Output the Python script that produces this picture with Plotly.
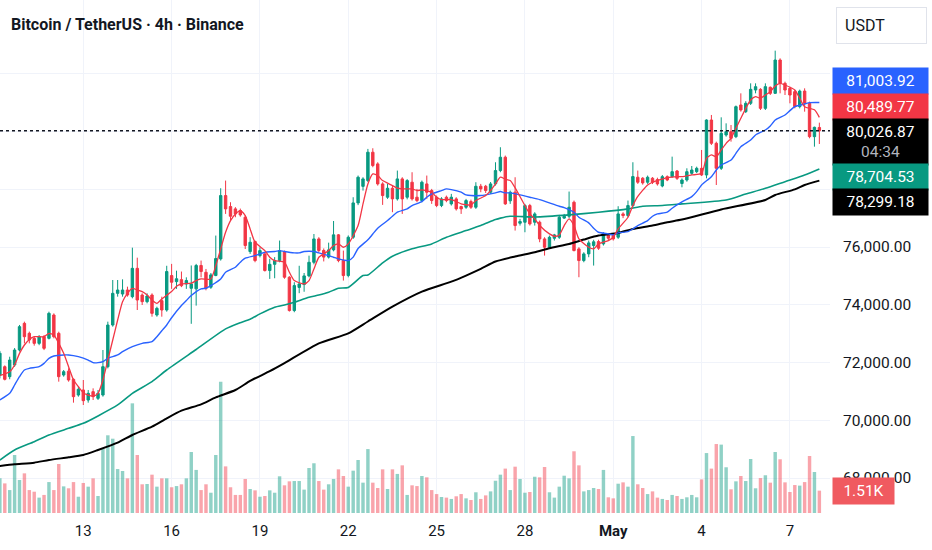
import pandas as pd
import plotly.graph_objects as go

# ---------------- data ----------------
start = pd.Timestamp("2025-04-10 00:00")
step = pd.Timedelta(hours=4)

opens = [71560,71855,71509,71913,72433,73356,73010,72837,72663,72894,
         72837,73645,73010,71567,71700,71417,70874,71048,70701,70990,
         70759,70874,71855,73298,74395,74372,74510,74280,75261,74337,
         74107,74337,73645,74141,73818,75010,74800,74870,74720,74570,
         74550,75360,75125,74607,75011,75588,77781,77400,77320,77262,
         77031,75842,76188,75703,75761,75184,75400,75530,75842,74953,
         73799,74600,74700,75000,75470,76280,75880,75650,75900,76420,
         75530,75011,76338,77527,78100,78300,79282,78878,78185,77724,
         78035,77666,78358,77724,78243,77724,77608,78185,77954,77724,
         77435,77724,77493,77666,77400,77377,77574,77377,78104,78104,
         77897,78185,78647,79109,77600,77900,76823,76858,77435,76858,
         76858,76280,75992,76303,76338,77000,77065,77550,75934,75530,
         75761,76050,76188,76107,76419,76396,76338,77146,77089,77435,
         78416,78382,78243,78382,78335,78113,78436,78436,78632,78200,
         78321,78552,78610,78725,78494,80398,79591,78725,79879,79994,
         79821,80918,80687,80976,81437,81460,80802,81530,81322,82476,
         81668,81495,81380,80860,81400,80976,79821,80140]
highs = [72400,71900,72200,72500,73300,73414,73070,72900,72950,72950,
         73760,73702,73067,71740,71798,71450,71163,71394,71048,71105,
         71048,72433,73414,74857,74857,74880,74626,75977,75630,74395,
         74395,74395,73933,74280,75350,75415,75180,75150,74950,75360,
         75415,75530,75240,75100,76396,78035,78300,77550,77380,77330,
         77089,76340,76223,75990,75820,75590,75650,76223,75876,74990,
         74780,75350,75100,75700,76450,76340,75950,76150,76900,76450,
         75876,76400,77724,78474,78416,79397,79420,78935,78243,78185,
         78127,78647,78416,78350,78589,78012,78300,78474,78012,77780,
         77724,77780,77840,77724,77430,77666,77640,78243,78185,78150,
         78250,78935,79455,79166,77954,78416,76973,77493,77493,77204,
         76915,76338,76396,76454,77112,77146,77920,77608,75992,75819,
         76223,76250,76250,76511,76454,76454,77412,77204,77608,78935,
         78647,78420,78474,78420,78400,78494,78480,79129,78667,78378,
         78725,78805,78782,79360,80421,80572,79648,80491,80283,80225,
         80900,81322,81050,81668,81668,81500,81668,81560,82800,82534,
         81726,81553,81437,81450,81495,81034,80168,80306]
lows = [71450,71380,71420,71850,72380,72663,72663,72583,72600,72430,
        72800,72837,71336,71509,71336,70609,70817,70528,70609,70701,
        70701,70817,71798,73241,74280,74280,74280,74222,73818,73991,
        74049,73587,73587,73587,73760,74550,74550,74610,74550,73340,
        73970,74950,74500,74550,74990,75530,77146,76915,77030,77050,
        75930,75761,75472,75640,75150,74895,74918,75470,74900,73764,
        73741,74400,74450,74950,75400,75820,75500,75600,75850,75472,
        74837,74950,76280,77450,77954,78250,78762,78127,77458,77666,
        77204,77608,77146,77650,77608,77550,77550,77666,77493,77380,
        77380,77550,77435,77262,77146,77320,77320,77320,77897,77870,
        77840,78127,78589,77458,77493,76569,76742,76511,76742,76742,
        76165,75703,75957,76223,76280,76973,77000,75850,74953,75472,
        75646,75357,75900,76050,76223,76223,76280,77000,77030,77377,
        78185,78160,78185,78180,78127,78067,78280,78400,78321,78067,
        78263,78500,78560,78459,78378,79533,78147,78667,79821,79648,
        79770,80687,80640,80918,81322,80745,80745,81264,81300,81322,
        81264,80976,80802,80800,80687,79764,79475,79568]
closes = [72320,71417,72086,72433,73241,72894,72779,72663,72894,72490,
          73702,72894,71509,71682,71394,70817,71071,70678,70932,70817,
          70932,71855,73298,74395,74510,74510,74337,75261,74164,74107,
          74303,73702,73876,73818,75150,74780,74900,74660,74840,74720,
          75360,75150,74570,75034,75600,77781,77320,77065,77146,77110,
          76050,76165,75530,75876,75184,75400,75530,75876,74953,73799,
          74664,74720,75000,75470,76280,75880,75650,75900,76420,75530,
          75011,76338,77527,78416,78358,79282,78820,78185,77781,78035,
          77666,78358,77666,78300,77666,77608,78243,77897,77608,77435,
          77666,77608,77724,77320,77320,77608,77377,78104,78012,77954,
          78185,78647,79109,77493,77897,76742,76881,77435,76800,77146,
          76280,75992,76338,76419,77031,77065,77377,75876,75530,75761,
          76142,76180,75957,76454,76303,76280,77146,77089,77435,78439,
          78243,78220,78416,78243,78185,78436,78321,78609,78378,78321,
          78609,78667,78725,78494,80398,79591,78725,79937,79994,79764,
          80860,80745,80976,81460,81553,80802,81553,81322,82476,81668,
          81437,81264,80860,81400,80976,79821,80145,80026.87]
volume_k = [2.34,2.00,1.55,3.92,2.23,2.68,1.55,1.44,1.04,1.22,
            2.09,1.55,3.31,1.80,1.67,2.09,1.10,2.03,1.78,2.34,
            1.15,4.35,5.25,5.02,2.97,2.84,2.34,7.41,3.92,1.94,
            1.96,2.59,1.78,2.34,2.34,1.74,1.82,1.94,2.34,4.12,
            2.91,1.55,1.94,1.37,3.92,8.87,3.15,1.74,1.22,1.22,
            2.30,1.62,1.53,1.10,1.15,1.53,1.37,2.48,1.87,2.14,
            2.16,2.16,1.58,3.04,3.36,2.16,1.58,1.94,2.30,2.95,
            2.50,1.78,2.86,3.58,2.05,4.32,2.05,1.69,2.95,1.62,
            2.95,2.64,3.22,1.22,1.87,1.82,2.50,2.41,1.55,1.28,
            1.08,1.04,0.95,1.13,1.28,0.99,0.88,1.40,0.95,1.19,
            1.46,2.18,2.59,3.00,1.55,3.13,2.30,1.37,1.42,2.45,
            2.41,3.11,1.40,1.04,1.78,2.52,2.34,4.17,3.22,1.46,
            1.55,1.69,1.62,2.91,1.06,0.99,1.98,2.07,1.78,5.20,
            1.94,1.69,1.28,1.46,1.04,0.95,0.88,1.22,1.15,0.95,
            1.06,1.22,1.06,2.27,4.05,3.00,4.66,4.62,3.09,1.60,
            2.14,2.50,2.16,3.65,1.67,2.36,2.55,2.05,4.12,3.63,
            2.07,1.42,1.89,1.85,2.09,3.85,2.77,1.51]

# moving averages (candle index -> value)
red_idx = [1,3,4,5,6,7,8,10,11,12,13,14,15,16,17,18,19,20,21,22,23,24,25,26,27,28,29,30,31,32,
           33,34,36,37,38,40,41,42,44,45,46,47,48,49,50,51,52,53,55,56,57,59,60,61,63,64,65,66,67,68,
           69,70,71,72,74,75,76,77,78,79,81,82,83,85,86,87,89,90,91,93,94,95,97,98,100,101,102,103,104,105,
           106,108,109,110,111,113,114,115,116,117,118,119,121,122,123,125,126,127,129,130,
           131,133,134,135,137,139,140,142,144,145,146,147,148,149,150,151,152,153,154,155,
           156,157,158,159,160,161,163,164,165,167,168]
red_val = [71550,71680,71913,72317,72606,72800,72894,72894,73010,72950,72663,72317,71855,71394,71163,70955,70874,70840,70932,71394,
           72086,72779,73472,74107,74395,74568,74510,74453,74337,74164,74049,74200,74457,74641,74722,74745,74838,74895,74895,75357,
           75934,76511,76915,77146,77262,77089,76626,76165,75876,75646,75530,75472,75126,74838,74722,74838,75241,75646,75761,75876,
           76050,76107,75992,76107,76742,77493,78185,78531,78474,78300,78127,78035,78012,78012,77954,77977,77897,77724,77643,77643,
           77573,77493,77458,77608,77781,77954,78185,78416,78350,78300,78050,77435,77146,76973,76742,76454,76373,76419,76742,76973,
           76742,76280,75992,75934,76107,76223,76338,76626,77031,77435,77750,78150,78243,78300,78400,78440,78436,78494,78552,79071,
           79187,79129,79360,79591,79764,80110,80456,80802,81091,81207,81149,81264,81380,81576,81668,81610,81437,81149,80860,80750,
           80489.77]
blue_idx = [1,3,4,5,6,7,9,10,11,12,14,15,17,19,20,21,22,23,25,26,28,30,32,33,34,35,36,38,39,40,
            42,43,44,46,47,49,50,51,53,54,55,57,58,59,61,62,63,65,66,68,69,70,72,73,74,76,77,78,80,81,
            82,84,85,87,88,89,91,92,93,95,96,97,99,100,102,103,104,105,107,109,111,113,115,116,118,119,121,122,123,125,
            126,127,129,130,131,133,134,135,137,138,140,142,143,144,146,147,148,150,151,152,
            154,155,157,158,159,161,162,163,165,166,168]
blue_val = [70701,70932,71221,71509,71740,71798,71855,71970,72144,72225,72260,72260,72202,72086,71994,71994,72029,72144,72260,72375,
            72548,72663,72721,72894,73100,73300,73550,73972,74145,74318,74549,74572,74664,74895,75126,75299,75472,75611,75703,75761,
            75819,75842,75876,75842,75796,75796,75842,75842,75796,75703,75646,75588,75530,75650,75950,76250,76450,76650,76915,77065,
            77204,77320,77435,77573,77724,77839,77954,78012,77989,77897,77804,77781,77781,77804,77874,77920,77874,77874,77804,77724,
            77643,77527,77412,77366,77204,77031,76835,76650,76511,76454,76419,76488,76534,76626,76742,76915,77065,77146,77204,77343,
            77560,77743,77916,78147,78436,78667,78840,79013,79244,79475,79706,79879,80052,80191,80398,80572,80722,80860,80953,80999,
            81003.92]
green_idx = [1,4,8,11,15,18,21,25,28,32,35,41,47,50,52,54,57,59,61,64,66,68,70,72,75,76,79,81,85,89,
             92,96,99,102,103,105,110,117,123,129,132,136,140,149,153,157,161,165,168]
green_val = [68623,68969,69258,69489,69720,69893,70150,70530,70930,71340,71740,72450,73164,73380,73500,73683,73914,73990,74087,74260,
             74337,74433,74572,74600,75011,75030,75450,75680,75940,76107,76338,76569,76742,76950,77000,77065,77040,77112,77204,77320,
             77412,77435,77493,77628,77836,78032,78263,78494,78704.53]
black_idx = [1,4,8,11,15,18,21,25,28,32,35,38,42,45,49,52,56,59,66,72,76,81,87,93,96,99,102,106,110,113,
             117,120,123,127,130,134,137,140,148,157,159,163,165,168]
black_val = [68415,68473,68531,68623,68716,68796,68969,69223,69489,69778,70066,70332,70551,70793,71047,71360,71700,71980,72663,73010,
             73420,73933,74453,74800,75011,75241,75496,75669,75819,75957,76107,76257,76396,76488,76626,76742,76858,76950,77300,77628,
             77801,77997,78147,78299.18]

tick_days = ["2025-04-13", "2025-04-16", "2025-04-19", "2025-04-22", "2025-04-25",
             "2025-04-28", "2025-05-01", "2025-05-04", "2025-05-07"]
tick_labels = ["13", "16", "19", "22", "25", "28", "<b>May</b>", "4", "7"]
price_ticks = [68000, 70000, 72000, 74000, 76000, 78000, 80000, 82000]
# tick texts that sit hidden behind the value labels in the original are left blank
price_tick_text = ["68,000.00", "70,000.00", "72,000.00", "74,000.00", "76,000.00", "", "", "82,000.00"]
title_text = "Bitcoin / TetherUS · 4h · Binance"
countdown = "04:34"

# ---------------- styles ----------------
UP = "#089981"
DOWN = "#f23645"
UP_VOL = "rgba(8,153,129,0.45)"
DOWN_VOL = "rgba(242,54,69,0.45)"
GRID = "#f0f3fa"
TXT = "#131722"
FONT = "Roboto"


def at(i):
    return start + step * i


dates = [at(k + 1) for k in range(len(closes))]
vol_colors = [UP_VOL if c >= o else DOWN_VOL for o, c in zip(opens, closes)]

fig = go.Figure()

fig.add_trace(go.Bar(x=dates, y=volume_k, marker=dict(color=vol_colors, line=dict(width=0)),
                     yaxis="y", showlegend=False, hoverinfo="skip"))

fig.add_trace(go.Candlestick(
    x=dates, open=opens, high=highs, low=lows, close=closes, yaxis="y2",
    increasing=dict(line=dict(color=UP, width=1), fillcolor=UP),
    decreasing=dict(line=dict(color=DOWN, width=1), fillcolor=DOWN),
    whiskerwidth=0, showlegend=False, hoverinfo="skip"))

for idx, val, col, w in [(black_idx, black_val, "#000000", 2.0),
                         (green_idx, green_val, UP, 1.6),
                         (blue_idx, blue_val, "#2962ff", 1.4),
                         (red_idx, red_val, DOWN, 1.3)]:
    fig.add_trace(go.Scatter(x=[at(i) for i in idx], y=val, mode="lines", yaxis="y2",
                             line=dict(color=col, width=w, shape="spline", smoothing=0.6),
                             showlegend=False, hoverinfo="skip"))

last_close = closes[-1]
fig.add_shape(type="line", xref="paper", x0=0, x1=1, yref="y2", y0=last_close, y1=last_close,
              line=dict(color=TXT, width=1.5, dash="dot"))

# right-side value labels (stacked like the original)
labels = [
    (blue_val[-1], "#2962ff", f"{blue_val[-1]:,.2f}", 21.5),
    (red_val[-1], DOWN, f"{red_val[-1]:,.2f}", 10.5),
    (last_close, "#000000", f"{last_close:,.2f}<br><span style='color:#b2b5be'>{countdown}</span>", -11.3),
    (green_val[-1], UP, f"{green_val[-1]:,.2f}", -8.5),
    (black_val[-1], "#000000", f"{black_val[-1]:,.2f}", -21.8),
]
annotations = []
for val, col, txt, shift in labels:
    annotations.append(dict(xref="paper", x=1, xanchor="left", xshift=2, yref="y2", y=val,
                            yanchor="middle", yshift=shift, text=txt, showarrow=False,
                            bgcolor=col, borderpad=4, width=87, align="center",
                            font=dict(family=FONT, size=15.5, color="white")))
annotations.append(dict(xref="paper", x=1, xanchor="left", xshift=2, yref="y", y=volume_k[-1],
                        yanchor="middle", text=f"{volume_k[-1]:.2f}K", showarrow=False,
                        bgcolor="#f05a60", borderpad=4, width=53, align="center",
                        font=dict(family=FONT, size=15.5, color="white")))
annotations.append(dict(xref="paper", x=1, xanchor="left", xshift=6, yref="paper", y=1,
                        yanchor="top", yshift=-7, text="USDT", showarrow=False,
                        bordercolor="#e0e3eb", borderwidth=1, borderpad=8, width=73, align="left",
                        font=dict(family=FONT, size=16, color=TXT)))

fig.update_layout(
    width=932, height=550,
    margin=dict(l=0, r=102, t=0, b=37),
    paper_bgcolor="white", plot_bgcolor="white",
    font=dict(family=FONT, color=TXT),
    title=dict(text=title_text, x=11 / 932, y=1 - 24 / 550, xanchor="left", yanchor="middle",
               font=dict(family=FONT, size=16, color=TXT, weight="bold")),
    showlegend=False, hovermode=False, bargap=0.3,
    annotations=annotations,
    xaxis=dict(type="date", range=[at(1.025), at(170.17)], rangeslider=dict(visible=False),
               tickvals=tick_days, ticktext=tick_labels, showgrid=True, gridcolor=GRID,
               zeroline=False, showline=False, ticks="outside", ticklen=4,
               tickcolor="rgba(0,0,0,0)",
               tickfont=dict(family=FONT, size=15, color=TXT)),
    yaxis=dict(range=[0, 513 / 14.8], visible=False, showgrid=False, zeroline=False),
    yaxis2=dict(overlaying="y", side="right", range=[66788, 84554], tickvals=price_ticks,
                ticktext=price_tick_text, showgrid=True, gridcolor=GRID, zeroline=False,
                showline=False, ticks="outside", ticklen=9, tickcolor="rgba(0,0,0,0)",
                tickfont=dict(family=FONT, size=15.5, color=TXT)),
)

fig.write_html("out.html", config={"displayModeBar": False, "staticPlot": True},
               post_script="document.body.style.margin='0';document.body.style.padding='0';")
